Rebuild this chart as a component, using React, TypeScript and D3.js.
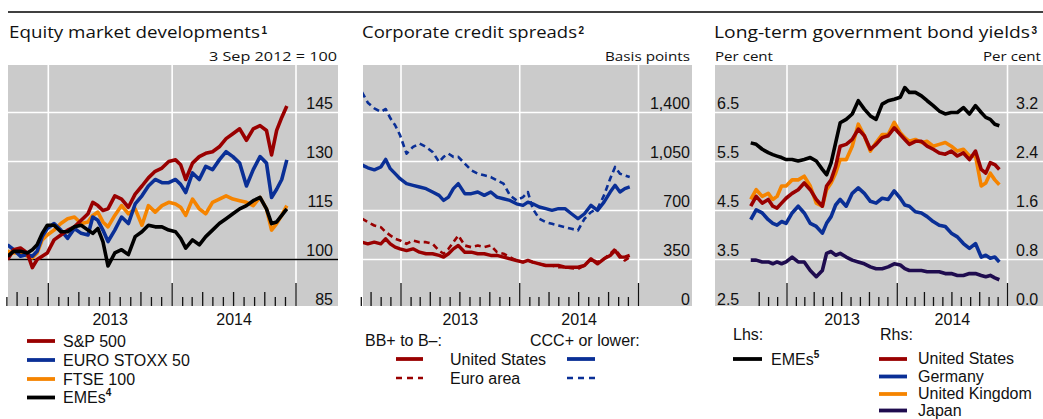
import React from 'react';
import * as d3 from 'd3';

// ---------------- data ----------------
const dates: string[] = [
  '2012-09-03', '2012-09-21', '2012-10-11', '2012-10-31', '2012-11-15', '2012-11-29', '2012-12-14', '2012-12-29',
  '2013-01-18', '2013-02-07', '2013-02-27', '2013-03-19', '2013-04-08', '2013-04-28', '2013-05-12', '2013-05-27',
  '2013-06-11', '2013-06-26', '2013-07-16', '2013-08-05', '2013-08-25', '2013-09-14', '2013-10-04', '2013-10-23',
  '2013-11-12', '2013-12-02', '2013-12-22', '2014-01-11', '2014-01-26', '2014-02-10', '2014-03-02', '2014-03-22',
  '2014-04-10', '2014-04-30', '2014-05-20', '2014-06-09', '2014-06-29', '2014-07-19', '2014-08-08', '2014-08-28',
  '2014-09-17', '2014-10-06', '2014-10-21', '2014-11-05', '2014-11-20', '2014-12-05',
];

// Equity market developments (3 Sep 2012 = 100)
const sp500 = [100, 103, 103.5, 102, 97.5, 100, 101, 102, 106, 107.5, 109, 110, 112, 114, 117.5, 116.5, 115, 115.5, 119.5, 118.5, 116, 120, 122.5, 125, 127, 128, 130, 130.5, 129, 124.5, 129.5, 131.5, 132.5, 133, 134.5, 137, 138.5, 140, 136.5, 140, 141, 139.5, 132, 139.5, 143.5, 147];
const euroStoxx50 = [104.5, 103, 101, 101.5, 101, 102.5, 107, 109.5, 111, 109, 106.5, 109.5, 108, 107.5, 113, 112, 109, 105.5, 109, 113, 111, 117, 119.5, 122.5, 124.5, 123.5, 123.5, 124.5, 123, 120.5, 126.5, 124.5, 128.5, 127.5, 130.5, 133, 131.5, 129.5, 122.5, 127.5, 131.5, 129.5, 119, 121.5, 124.5, 130.5];
const ftse100 = [102.5, 102, 102, 101, 100.5, 102, 106, 107.5, 109, 111, 112.5, 113, 111, 111.5, 113.5, 114.5, 111.5, 110, 113.5, 116.5, 114, 115.5, 110.5, 116.5, 114.5, 116.5, 117.5, 117, 116, 113.5, 118.5, 115.5, 114, 117.5, 118.5, 119.5, 118.5, 118, 117.5, 116.5, 119, 115.5, 109, 111, 113.5, 116.5];
const emeEquities = [101, 102.5, 102.5, 102, 103, 104.5, 108, 110.5, 110.5, 108.5, 108.5, 110, 110.5, 109, 108, 109.5, 105.5, 98, 102, 103, 101.5, 107, 108.5, 110.5, 110, 110, 109, 108.5, 106.5, 103.5, 106, 104.5, 107, 109, 111, 112.5, 114, 115.5, 116.5, 118, 119, 115.5, 111, 111.5, 113.5, 115.5];

// Corporate credit spreads (basis points)
const usBB = [474, 462, 474, 462, 498, 462, 438, 426, 414, 426, 402, 391, 391, 379, 367, 391, 426, 450, 402, 402, 391, 391, 379, 379, 367, 355, 343, 331, 343, 331, 319, 307, 307, 307, 295, 295, 295, 307, 355, 319, 355, 379, 414, 367, 367, 379];
const euroBB = [641, 617, 593, 581, 546, 522, 498, 486, 462, 486, 474, 474, 462, 414, 391, 426, 474, 522, 450, 438, 450, 438, 450, 402, 391, 367, 343, 331, 343, 331, 319, 307, 307, 295, 295, 288, 283, 307, 355, 331, 355, 391, 426, 379, 343, 367];
const usCCC = [1025, 1005, 990, 1011, 1065, 999, 963, 927, 892, 880, 868, 856, 832, 808, 772, 796, 856, 892, 820, 820, 832, 808, 832, 796, 784, 772, 748, 737, 760, 748, 725, 713, 701, 713, 713, 677, 641, 677, 737, 701, 760, 832, 880, 832, 856, 868];
const euroCCC = [1545, 1470, 1430, 1405, 1425, 1360, 1309, 1238, 1106, 1154, 1178, 1154, 1118, 1047, 1083, 1106, 1083, 1083, 1035, 987, 963, 951, 939, 915, 892, 808, 772, 796, 832, 713, 641, 617, 605, 593, 581, 569, 558, 641, 689, 713, 808, 927, 1011, 963, 951, 939];

// Long-term government bond yields (per cent)
const emeYields = [5.88, 5.85, 5.75, 5.68, 5.64, 5.61, 5.58, 5.54, 5.54, 5.51, 5.54, 5.58, 5.51, 5.34, 5.23, 5.47, 5.88, 6.29, 6.36, 6.47, 6.74, 6.57, 6.43, 6.36, 6.67, 6.74, 6.77, 6.81, 7.01, 6.91, 6.91, 6.84, 6.74, 6.64, 6.53, 6.47, 6.5, 6.5, 6.6, 6.47, 6.64, 6.5, 6.4, 6.36, 6.26, 6.23];
const usYields = [1.67, 1.83, 1.72, 1.78, 1.67, 1.64, 1.72, 1.8, 1.88, 1.94, 2.05, 1.94, 1.78, 1.67, 2.0, 2.1, 2.32, 2.65, 2.68, 2.76, 2.93, 2.82, 2.6, 2.68, 2.79, 2.82, 2.95, 2.84, 2.76, 2.68, 2.73, 2.73, 2.65, 2.6, 2.54, 2.52, 2.57, 2.49, 2.54, 2.43, 2.57, 2.27, 2.21, 2.38, 2.35, 2.27];
const germanyYields = [1.45, 1.61, 1.56, 1.45, 1.39, 1.36, 1.42, 1.39, 1.56, 1.67, 1.56, 1.39, 1.34, 1.23, 1.39, 1.5, 1.69, 1.78, 1.67, 1.88, 1.97, 1.88, 1.75, 1.72, 1.8, 1.78, 1.92, 1.8, 1.69, 1.67, 1.58, 1.56, 1.5, 1.42, 1.36, 1.34, 1.23, 1.17, 1.06, 0.98, 1.06, 0.84, 0.87, 0.82, 0.84, 0.76];
const ukYields = [1.78, 1.94, 1.83, 1.88, 1.78, 1.83, 2.0, 2.0, 2.1, 2.1, 2.16, 2.0, 1.72, 1.67, 1.94, 2.05, 2.21, 2.43, 2.43, 2.65, 3.01, 2.82, 2.57, 2.71, 2.84, 2.84, 3.04, 2.87, 2.79, 2.73, 2.76, 2.71, 2.73, 2.65, 2.68, 2.71, 2.65, 2.57, 2.6, 2.49, 2.49, 2.0, 2.05, 2.21, 2.1, 2.02];
const japanYields = [0.79, 0.79, 0.76, 0.76, 0.73, 0.76, 0.73, 0.76, 0.84, 0.76, 0.76, 0.62, 0.52, 0.62, 0.9, 0.93, 0.87, 0.9, 0.84, 0.79, 0.76, 0.73, 0.68, 0.65, 0.65, 0.68, 0.73, 0.71, 0.65, 0.62, 0.62, 0.62, 0.6, 0.6, 0.6, 0.57, 0.57, 0.54, 0.54, 0.57, 0.57, 0.54, 0.52, 0.54, 0.5, 0.47];

// tick labels
const equityTicks = [85, 100, 115, 130, 145];
const spreadTicks = [0, 350, 700, 1050, 1400];
const lhsYieldTicks = [2.5, 3.5, 4.5, 5.5, 6.5];
const rhsYieldTicks = [0.0, 0.8, 1.6, 2.4, 3.2];
const yearLabels = [2013, 2014];

// ---------------- styles ----------------
const W = 1043;
const H = 419;
const BG = '#cbcbcb';
const RED = '#990000';
const BLUE = '#0a2f96';
const ORANGE = '#f58400';
const BLACK = '#000000';
const PURPLE = '#1f0c4f';
const SANS = '"Liberation Sans", Arial, Helvetica, sans-serif';
const TITLE = '"Open Sans", "Noto Sans", sans-serif';
const Y_TOP = 63.5;
const Y_BOTTOM = 308.5;

const parse = d3.timeParse('%Y-%m-%d');
const times = dates.map((d) => parse(d) as Date);

type Layout = { left: number; right: number; top: number; bottom: number; x2013: number; x2015: number };
type Series = { values: number[]; color: string; dash?: string; width?: number; rhs?: boolean };

type PanelProps = {
  id: string;
  L: Layout;
  yDomain: [number, number];
  yTicks: number[];
  rDomain?: [number, number];
  rTicks?: number[];
  series: Series[];
  blackLineAt?: number;
  leftLabelX?: number;
  rightLabelX: number;
  rightAnchor: 'start' | 'end';
  fmt: (v: number) => string;
  tickFrom: Date;
};

function Panel(p: PanelProps) {
  const { L } = p;
  const x = d3.scaleTime().domain([new Date(2013, 0, 1), new Date(2015, 0, 1)]).range([L.x2013, L.x2015]);
  const y = d3.scaleLinear().domain(p.yDomain).range([Y_BOTTOM, Y_TOP]);
  const yR = p.rDomain ? d3.scaleLinear().domain(p.rDomain).range([Y_BOTTOM, Y_TOP]) : y;
  const months = d3.timeMonth.range(p.tickFrom, new Date(2015, 0, 2));
  const yearLines = [2013, 2014, 2015].map((yr) => new Date(yr, 0, 1));

  return (
    <g>
      <defs>
        <clipPath id={p.id}>
          <rect x={L.left} y={L.top} width={L.right - L.left} height={L.bottom - L.top} />
        </clipPath>
      </defs>
      <rect x={L.left} y={L.top} width={L.right - L.left} height={L.bottom - L.top} fill={BG} />
      {p.yTicks.slice(1).map((v) => (
        <line key={'h' + v} x1={L.left} x2={L.right} y1={y(v)} y2={y(v)} stroke="#fff" strokeWidth={1.6} />
      ))}
      {yearLines.map((d) => (
        <line key={'v' + d.getFullYear()} x1={x(d)} x2={x(d)} y1={L.top} y2={L.bottom} stroke="#fff" strokeWidth={1.6} />
      ))}
      {p.blackLineAt !== undefined && (
        <line x1={L.left} x2={L.right} y1={y(p.blackLineAt)} y2={y(p.blackLineAt)} stroke="#000" strokeWidth={1.5} />
      )}
      {months.map((m) => {
        const mo = m.getMonth();
        const h = mo === 0 ? 23 : mo % 3 === 0 ? 14 : 9;
        return (
          <line key={'t' + m.getTime()} x1={x(m)} x2={x(m)} y1={L.bottom - h} y2={L.bottom} stroke="#111" strokeWidth={1.3} />
        );
      })}
      <g clipPath={`url(#${p.id})`}>
        {p.series.map((s, i) => {
          const sc = s.rhs ? yR : y;
          const gen = d3
            .line<number>()
            .x((_, j) => x(times[j]))
            .y((v) => sc(v));
          return (
            <path
              key={'s' + i}
              d={gen(s.values) || ''}
              fill="none"
              stroke={s.color}
              strokeWidth={s.width ?? 3.6}
              strokeDasharray={s.dash}
              strokeLinejoin="round"
            />
          );
        })}
      </g>
      {p.leftLabelX !== undefined &&
        p.yTicks.map((v) => (
          <text key={'l' + v} x={p.leftLabelX} y={y(v) - 3.5} fontFamily={SANS} fontSize={16} fill="#111">
            {p.fmt(v)}
          </text>
        ))}
      {(p.rTicks ?? p.yTicks).map((v) => (
        <text
          key={'r' + v}
          x={p.rightLabelX}
          y={yR(v) - 3.5}
          fontFamily={SANS}
          fontSize={16}
          fill="#111"
          textAnchor={p.rightAnchor}
        >
          {p.rTicks ? d3.format('.1f')(v) : p.fmt(v)}
        </text>
      ))}
      {yearLabels.map((yr) => {
        const cx = (x(new Date(yr, 0, 1)) + x(new Date(yr + 1, 0, 1))) / 2;
        return (
          <text key={'y' + yr} x={cx} y={325} fontFamily={SANS} fontSize={16} fill="#111" textAnchor="middle">
            {yr}
          </text>
        );
      })}
    </g>
  );
}

function Title({ x, text, width, sup }: { x: number; text: string; width: number; sup: string }) {
  return (
    <g>
      <text x={x} y={38} fontFamily={TITLE} fontSize={17} fill="#111" textLength={width} lengthAdjust="spacingAndGlyphs">
        {text}
      </text>
      <text x={x + width + 1.5} y={34} fontFamily={SANS} fontWeight="bold" fontSize={10} fill="#111">
        {sup}
      </text>
    </g>
  );
}

function Unit({ x, text, width }: { x: number; text: string; width: number }) {
  return (
    <text x={x} y={60.5} fontFamily={TITLE} fontSize={13} fill="#111" textLength={width} lengthAdjust="spacingAndGlyphs">
      {text}
    </text>
  );
}

function LegendLine({ x1, x2, y, color, dash }: { x1: number; x2: number; y: number; color: string; dash?: string }) {
  return <line x1={x1} x2={x2} y1={y} y2={y} stroke={color} strokeWidth={dash ? 2.4 : 3.8} strokeDasharray={dash} />;
}

function LegendText({ x, y, text, sup }: { x: number; y: number; text: string; sup?: string }) {
  return (
    <text x={x} y={y} fontFamily={SANS} fontSize={16} fill="#111">
      {text}
      {sup && (
        <tspan fontSize={10} fontWeight="bold" dy={-7}>
          {sup}
        </tspan>
      )}
    </text>
  );
}

export default function App() {
  const L1: Layout = { left: 8, right: 338, top: 65, bottom: 306, x2013: 48.3, x2015: 296 };
  const L2: Layout = { left: 363, right: 692, top: 65, bottom: 306, x2013: 401, x2015: 638.5 };
  const L3: Layout = { left: 715, right: 1043, top: 65, bottom: 306, x2013: 787, x2015: 1007.5 };

  const leg1 = [
    { label: 'S&P 500', color: RED },
    { label: 'EURO STOXX 50', color: BLUE },
    { label: 'FTSE 100', color: ORANGE },
    { label: 'EMEs', color: BLACK, sup: '4' },
  ];
  const leg1Y = [341, 360, 379, 397.5];
  const leg3 = [
    { label: 'United States', color: RED },
    { label: 'Germany', color: BLUE },
    { label: 'United Kingdom', color: ORANGE },
    { label: 'Japan', color: PURPLE },
  ];
  const leg3Y = [359, 376.5, 394, 410.5];

  return (
    <svg
      width={W}
      height={H}
      viewBox={`0 0 ${W} ${H}`}
      style={{ position: 'absolute', left: 0, top: 0, background: '#fff', display: 'block' }}
    >
      <rect x={0} y={0} width={W} height={H} fill="#fff" />
      <line x1={8} x2={W} y1={12} y2={12} stroke="#000" strokeWidth={1.6} />

      {/* Panel 1 */}
      <Title x={9} text="Equity market developments" width={251} sup="1" />
      <Unit x={209} text="3 Sep 2012 = 100" width={128} />
      <Panel
        id="clip1"
        L={L1}
        yDomain={[85, 160]}
        yTicks={equityTicks}
        series={[
          { values: ftse100, color: ORANGE },
          { values: euroStoxx50, color: BLUE },
          { values: sp500, color: RED },
          { values: emeEquities, color: BLACK },
        ]}
        blackLineAt={100}
        rightLabelX={333}
        rightAnchor="end"
        fmt={(v) => String(v)}
        tickFrom={new Date(2012, 8, 1)}
      />
      {leg1.map((e, i) => (
        <g key={e.label}>
          <LegendLine x1={27} x2={55} y={leg1Y[i]} color={e.color} />
          <LegendText x={63} y={leg1Y[i] + 5.5} text={e.label} sup={e.sup} />
        </g>
      ))}

      {/* Panel 2 */}
      <Title x={362} text="Corporate credit spreads" width={215} sup="2" />
      <Unit x={605} text="Basis points" width={85} />
      <Panel
        id="clip2"
        L={L2}
        yDomain={[0, 1750]}
        yTicks={spreadTicks}
        series={[
          { values: usBB, color: RED, width: 3.4 },
          { values: euroBB, color: RED, dash: '6,4', width: 2.6 },
          { values: usCCC, color: BLUE, width: 3.4 },
          { values: euroCCC, color: BLUE, dash: '6,4', width: 2.6 },
        ]}
        rightLabelX={690}
        rightAnchor="end"
        fmt={d3.format(',')}
        tickFrom={new Date(2012, 8, 1)}
      />
      <text x={365} y={346} fontFamily={SANS} fontSize={16} fill="#111">BB+ to B–:</text>
      <text x={530} y={346} fontFamily={SANS} fontSize={16} fill="#111">CCC+ or lower:</text>
      <LegendLine x1={396} x2={423} y={359} color={RED} />
      <LegendText x={450} y={364.5} text="United States" />
      <LegendLine x1={567} x2={595} y={359} color={BLUE} />
      <LegendLine x1={396} x2={423} y={378} color={RED} dash="6,5" />
      <LegendText x={450} y={383.5} text="Euro area" />
      <LegendLine x1={567} x2={595} y={378} color={BLUE} dash="6,5" />

      {/* Panel 3 */}
      <Title x={714} text="Long-term government bond yields" width={316} sup="3" />
      <Unit x={715} text="Per cent" width={58} />
      <Unit x={983} text="Per cent" width={58} />
      <Panel
        id="clip3"
        L={L3}
        yDomain={[2.5, 7.5]}
        yTicks={lhsYieldTicks}
        rDomain={[0, 4]}
        rTicks={rhsYieldTicks}
        series={[
          { values: emeYields, color: BLACK },
          { values: ukYields, color: ORANGE, rhs: true },
          { values: usYields, color: RED, rhs: true },
          { values: germanyYields, color: BLUE, rhs: true },
          { values: japanYields, color: PURPLE, rhs: true },
        ]}
        leftLabelX={717}
        rightLabelX={1016}
        rightAnchor="start"
        fmt={d3.format('.1f')}
        tickFrom={new Date(2012, 9, 1)}
      />
      <text x={733} y={340} fontFamily={SANS} fontSize={16} fill="#111">Lhs:</text>
      <text x={880} y={340} fontFamily={SANS} fontSize={16} fill="#111">Rhs:</text>
      <LegendLine x1={733} x2={762} y={359} color={BLACK} />
      <LegendText x={771} y={365} text="EMEs" sup="5" />
      {leg3.map((e, i) => (
        <g key={e.label}>
          <LegendLine x1={879} x2={907} y={leg3Y[i]} color={e.color} />
          <LegendText x={918} y={leg3Y[i] + 5} text={e.label} />
        </g>
      ))}
    </svg>
  );
}
